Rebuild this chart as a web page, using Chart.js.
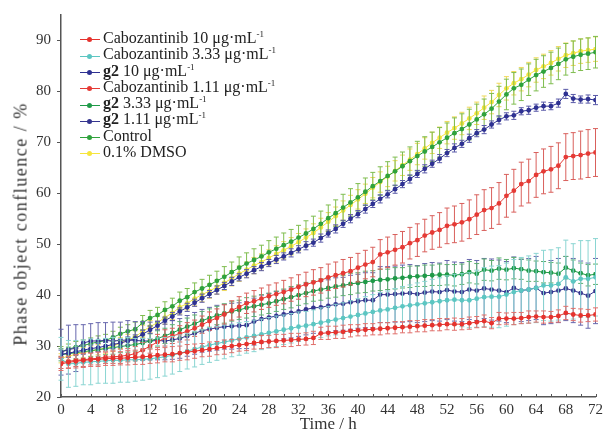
<!DOCTYPE html>
<html>
<head>
<meta charset="utf-8">
<script src="https://cdn.jsdelivr.net/npm/chart.js@4.4.0/dist/chart.umd.min.js"></script>
<style>
html, body { margin: 0; padding: 0; background: #fff; }
#caixa { position: relative; width: 607px; height: 435px; }
#legenda { position: absolute; left: 80px; top: 30px; font-family: 'Liberation Serif', 'Times New Roman', serif; font-size: 16px; color: #222; }
#legenda div { height: 16.3px; line-height: 16.3px; white-space: nowrap; }
.amostra { display: inline-block; position: relative; width: 20px; height: 10px; margin-right: 3px; vertical-align: middle; }
.amostra i { position: absolute; left: 0; right: 0; top: 5px; height: 1px; }
.amostra b { position: absolute; left: 7px; top: 3px; width: 5px; height: 5px; border-radius: 50%; }
sup { font-size: 9px; vertical-align: top; line-height: 1; }
#titulo_y { position: absolute; left: 21px; top: 224px; transform: translate(-50%, -50%) rotate(-90deg); white-space: nowrap;
            font-family: 'Liberation Serif', 'Times New Roman', serif; font-size: 18px; letter-spacing: 1.5px; color: #333; }
</style>
</head>
<body>
<div id="caixa">
  <canvas id="plot1" width="607" height="435"></canvas>
  <div id="legenda"></div>
  <div id="titulo_y"></div>
</div>
<script>
// tempo em horas
var horas = [0,1,2,3,4,5,6,7,8,9,10,11,12,13,14,15,16,17,18,19,20,21,22,23,24,25,26,27,28,29,30,31,32,33,34,35,36,
             37,38,39,40,41,42,43,44,45,46,47,48,49,50,51,52,53,54,55,56,57,58,59,60,61,62,63,64,65,66,67,68,69,70,71,72];

var nomes = ['Cabozantinib 10 μg·mL-1', 'Cabozantinib 3.33 μg·mL-1', 'g2 10 μg·mL-1', 'Cabozantinib 1.11 μg·mL-1',
             'g2 3.33 μg·mL-1', 'g2 1.11 μg·mL-1', 'Control', '0.1% DMSO'];
var titulo_x = 'Time / h';
var titulo_y = 'Phase object confluence / %';

var cab_10 = [26.5,26.8,27.0,27.2,27.3,27.4,27.5,27.6,27.6,27.7,
              27.8,27.9,28.0,28.2,28.3,28.4,28.6,28.8,29.0,29.2,
              29.4,29.6,29.8,30.0,30.2,30.4,30.6,30.8,30.9,31.0,
              31.1,31.2,31.3,31.4,31.6,32.5,32.6,32.7,32.8,33.0,
              33.1,33.2,33.3,33.4,33.5,33.6,33.7,33.8,33.9,34.0,
              34.1,34.2,34.3,34.3,34.3,34.5,34.7,34.9,34.5,35.4,
              35.4,35.4,35.5,35.7,35.8,35.7,35.7,35.9,36.5,36.2,
              36.0,36.0,36.2];
var cab_333 = [27.5,26.5,26.6,26.8,26.9,27.0,27.1,27.2,27.2,27.3,
               27.3,27.4,27.5,27.7,27.9,28.2,28.6,29.0,29.4,29.8,
               30.2,30.5,30.8,31.1,31.4,31.7,32.0,32.3,32.6,32.9,
               33.2,33.5,33.8,34.0,34.3,34.6,34.9,35.2,35.5,35.8,
               36.1,36.4,36.7,37.0,37.2,37.5,37.8,38.0,38.2,38.4,
               38.6,38.8,39.0,39.1,39.0,39.0,39.3,39.6,39.7,39.7,
               40.1,40.6,40.9,41.1,41.4,41.9,41.9,42.2,43.5,42.7,
               43.2,43.2,43.5];
var g2_10 = [28.4,28.6,28.9,29.2,29.5,29.7,30.0,30.3,30.6,31.0,
             31.5,32.3,33.2,34.0,35.0,35.8,36.8,37.6,38.5,39.4,
             40.2,41.0,41.8,42.7,43.5,44.2,44.9,45.6,46.3,47.0,
             47.6,48.3,49.0,49.7,50.3,51.2,52.1,53.0,54.0,55.0,
             55.9,56.9,57.9,58.9,59.8,60.8,61.8,62.8,63.8,64.8,
             65.8,66.8,67.9,68.9,69.7,70.8,71.8,72.5,73.5,74.4,
             75.1,75.3,76.1,76.3,76.8,77.1,77.1,77.7,79.5,78.6,
             78.4,78.5,78.3];
var cab_111 = [26.8,27.0,27.2,27.3,27.5,27.6,27.8,27.9,28.0,28.2,
               28.5,29.2,30.0,30.8,31.6,32.0,32.4,32.9,33.5,34.2,
               34.9,35.5,36.2,37.0,37.7,38.4,38.8,39.3,39.8,40.2,
               40.6,41.1,41.6,42.1,42.5,42.9,43.5,43.9,44.3,44.7,
               45.4,46.0,46.5,48.0,48.4,48.9,49.4,50.2,50.8,51.7,
               52.3,52.8,53.6,53.9,54.3,54.9,55.8,56.7,57.1,58.0,
               59.5,60.5,61.8,62.4,63.6,64.3,64.7,65.4,67.1,67.3,
               67.5,67.8,68.0];
var g2_333 = [28.3,28.5,28.7,28.9,29.1,29.3,29.5,29.7,29.9,30.1,
              30.3,30.6,31.0,31.5,32.0,32.6,33.2,33.8,34.4,35.0,
              35.5,36.0,36.4,36.8,37.1,37.5,37.8,38.1,38.4,38.8,
              39.2,39.6,40.0,40.4,40.8,41.1,41.4,41.7,41.9,42.2,
              42.4,42.6,42.8,43.0,43.1,43.3,43.4,43.6,43.7,43.8,
              43.9,44.0,44.0,43.9,44.1,44.5,44.2,45.0,44.8,45.2,
              45.0,45.3,45.1,44.8,44.7,44.5,44.4,44.2,45.4,44.8,
              44.3,43.9,44.1];
var g2_111 = [28.8,29.3,29.6,30.6,31.0,31.0,31.1,31.0,31.1,31.2,
              31.1,31.0,31.0,31.1,31.0,31.2,31.5,32.0,32.5,33.0,
              33.3,33.6,33.8,33.9,34.0,34.1,34.8,35.3,35.6,35.9,
              36.2,36.5,36.8,37.2,37.5,37.6,37.9,38.2,38.3,38.6,
              38.8,39.0,39.0,40.1,40.1,40.2,40.3,40.4,40.2,40.5,
              40.7,40.6,41.0,40.7,40.6,41.1,40.9,41.3,41.1,40.9,
              40.6,41.4,40.9,41.1,41.4,40.4,40.6,40.9,41.3,40.9,
              40.4,39.9,40.8];
var controle = [28.9,29.4,29.8,30.1,30.5,30.8,31.1,31.7,32.4,32.9,
                33.3,34.6,35.5,36.1,37.1,37.8,38.9,39.6,40.6,41.3,
                42.0,42.8,43.6,44.5,45.4,46.2,46.9,47.6,48.4,49.1,
                49.8,50.5,51.3,52.1,53.0,54.0,55.1,56.1,57.2,58.2,
                59.2,60.3,61.4,62.4,63.4,64.3,65.3,66.3,67.3,68.2,
                69.1,70.0,70.9,71.8,72.6,73.5,74.5,75.5,76.6,78.0,
                79.4,80.6,81.3,82.3,83.2,83.9,84.6,85.4,86.3,86.8,
                87.2,87.4,87.7];
var dmso = [27.6,28.0,28.4,28.7,29.0,29.3,29.6,30.0,30.6,31.2,
            31.8,32.9,33.8,34.6,35.6,36.5,37.6,38.4,39.3,40.1,
            40.8,41.6,42.4,43.3,44.2,45.0,45.8,46.5,47.3,48.1,
            48.8,49.6,50.4,51.3,52.2,53.3,54.4,55.5,56.6,57.7,
            58.8,59.9,61.1,62.2,63.3,64.4,65.5,66.6,67.7,68.8,
            69.9,70.9,71.9,72.8,73.7,74.7,75.7,76.8,77.9,79.3,
            80.6,81.6,82.4,83.3,84.2,84.9,85.6,86.4,87.1,87.5,
            87.9,88.1,88.3];

// desvios (barras de erro, +/-)
var erro_cab_10 = [1.3,1.2,1.3,1.4,1.3,1.4,1.3,1.4,1.3,1.4,
                   1.4,1.5,1.4,1.5,1.4,1.5,1.4,1.5,1.4,1.3,
                   1.4,1.3,1.4,1.3,1.2,1.3,1.2,1.3,1.2,1.3,
                   1.2,1.3,1.2,1.2,1.3,1.2,1.3,1.2,1.3,1.2,
                   1.1,1.2,1.1,1.2,1.1,1.2,1.1,1.2,1.1,1.2,
                   1.1,1.2,1.1,1.2,1.1,1.2,1.1,1.2,1.1,1.2,
                   1.1,1.2,1.1,1.2,1.1,1.2,1.1,1.2,1.3,1.2,
                   1.3,1.2,1.3];
var erro_cab_333 = [4.2,4.6,4.5,4.4,4.5,4.3,4.4,4.5,4.3,4.4,
                    4.2,4.1,4.0,3.9,3.8,3.7,3.6,3.5,3.5,3.4,
                    3.4,3.3,3.3,3.2,3.2,3.1,3.1,3.0,3.0,3.0,
                    2.9,2.9,2.9,2.8,2.8,2.9,2.9,3.0,3.0,3.1,
                    3.2,3.3,3.4,3.5,3.6,3.8,3.9,4.0,4.2,4.3,
                    4.5,4.6,4.8,5.0,5.2,5.4,5.6,5.8,6.0,6.1,
                    6.2,6.4,6.5,6.6,6.8,6.9,7.0,7.1,7.3,7.4,
                    7.5,7.5,7.6];
var erro_g2_10 = [0.8,0.8,0.7,0.8,0.7,0.8,0.7,0.8,0.7,0.8,
                  0.7,0.8,0.7,0.8,0.7,0.8,0.7,0.8,0.7,0.8,
                  0.7,0.8,0.7,0.8,0.7,0.8,0.7,0.8,0.7,0.8,
                  0.7,0.8,0.7,0.8,0.7,0.8,0.7,0.8,0.7,0.8,
                  0.7,0.8,0.7,0.8,0.7,0.8,0.7,0.8,0.7,0.8,
                  0.7,0.8,0.7,0.8,0.7,0.8,0.7,0.8,0.7,0.8,
                  0.7,0.8,0.7,0.8,0.7,0.8,0.7,0.8,0.9,0.8,
                  0.7,0.8,0.9];
var erro_cab_111 = [1.2,1.3,1.2,1.3,1.2,1.3,1.2,1.3,1.4,1.3,
                    1.4,1.5,1.4,1.5,1.6,1.5,1.6,1.7,1.6,1.7,
                    1.8,1.8,1.9,1.9,2.0,2.0,2.1,2.1,2.2,2.2,
                    2.3,2.3,2.4,2.4,2.5,2.5,2.6,2.6,2.7,2.7,
                    2.8,2.8,2.9,2.9,3.0,3.0,3.1,3.1,3.2,3.2,
                    3.3,3.4,3.5,3.6,3.7,3.8,3.9,4.0,4.0,4.1,
                    4.2,4.2,4.3,4.3,4.4,4.4,4.5,4.5,4.6,4.6,
                    4.7,4.7,4.7];
var erro_g2_333 = [1.2,1.3,1.2,1.3,1.2,1.3,1.2,1.3,1.2,1.3,
                   1.3,1.4,1.4,1.5,1.5,1.6,1.6,1.7,1.7,1.8,
                   1.8,1.8,1.9,1.9,1.9,2.0,2.0,2.0,2.0,2.0,
                   2.0,2.1,2.0,2.1,2.0,2.1,2.0,2.1,2.0,2.1,
                   2.0,2.1,2.0,2.1,2.0,2.1,2.0,2.1,2.0,2.1,
                   2.0,2.1,2.0,2.1,2.0,2.1,2.0,2.1,2.0,2.1,
                   2.0,2.1,2.0,2.1,2.0,2.1,2.0,2.1,2.2,2.1,
                   2.0,2.1,2.0];
var erro_g2_111 = [4.5,4.8,4.6,3.6,3.4,3.6,3.5,3.7,3.6,3.8,
                   3.7,3.8,3.7,3.8,3.7,3.8,3.9,4.0,4.1,4.2,
                   4.3,4.4,4.4,4.5,4.5,4.6,4.6,4.7,4.7,4.8,
                   4.8,4.9,4.9,5.0,5.0,5.1,5.1,5.2,5.2,5.3,
                   5.3,5.4,5.4,5.5,5.5,5.5,5.6,5.6,5.6,5.7,
                   5.7,5.7,5.8,5.8,5.8,5.9,5.9,5.9,6.0,6.0,
                   6.0,6.1,6.1,6.1,6.2,6.2,6.2,6.3,6.3,6.3,
                   6.3,6.4,6.4];
var erro_controle = [1.0,1.0,1.1,1.1,1.1,1.2,1.2,1.2,1.3,1.3,
                     1.4,1.4,1.5,1.5,1.6,1.6,1.7,1.7,1.8,1.8,
                     1.9,1.9,2.0,2.0,2.1,2.1,2.2,2.2,2.3,2.3,
                     2.4,2.4,2.4,2.5,2.5,2.5,2.6,2.6,2.6,2.7,
                     2.7,2.7,2.7,2.8,2.8,2.8,2.8,2.8,2.9,2.9,
                     2.9,2.9,2.9,3.0,3.0,3.0,3.0,3.0,3.0,3.0,
                     3.0,3.1,3.1,3.1,3.1,3.1,3.1,3.1,3.1,3.1,
                     3.1,3.1,3.1];
var erro_dmso = [0.9,0.9,1.0,1.0,1.0,1.0,1.1,1.1,1.1,1.1,
                 1.2,1.2,1.2,1.2,1.3,1.3,1.3,1.3,1.4,1.4,
                 1.4,1.4,1.5,1.5,1.5,1.5,1.6,1.6,1.6,1.6,
                 1.7,1.7,1.7,1.7,1.8,1.8,1.8,1.8,1.9,1.9,
                 1.9,1.9,2.0,2.0,2.0,2.0,2.0,2.1,2.1,2.1,
                 2.1,2.1,2.2,2.2,2.2,2.2,2.2,2.3,2.3,2.3,
                 2.3,2.3,2.3,2.4,2.4,2.4,2.4,2.4,2.4,2.4,
                 2.4,2.4,2.4];

var series = [cab_10, cab_333, g2_10, cab_111, g2_333, g2_111, controle, dmso];
var erros = [erro_cab_10, erro_cab_333, erro_g2_10, erro_cab_111, erro_g2_333, erro_g2_111, erro_controle, erro_dmso];
var cores = ['#e5322d', '#5cc6c2', '#2e3192', '#e53a35', '#1f9a48', '#35358f', '#2fa23c', '#f6e53c'];
var cores_erro = ['#e0706c', '#8ad5d2', '#5a5aa8', '#d9605c', '#5fb070', '#6767ad', '#7fbd4f', '#efd95a'];

var fonte = "'Liberation Serif', 'Times New Roman', serif";

// desenha as barras de erro antes de cada serie
var barras_de_erro = {
    id: 'barras_de_erro',
    beforeDatasetDraw: function (chart, args) {
        var ds = chart.data.datasets[args.index];
        var eixo_y = chart.scales.y;
        var ctx = chart.ctx;
        ctx.save();
        ctx.strokeStyle = ds.cor_erro;
        ctx.lineWidth = 1;
        for (var i = 0; i < args.meta.data.length; i++) {
            var p = args.meta.data[i];
            var v = ds.data[i].y;
            var e = ds.erros[i];
            var y1 = eixo_y.getPixelForValue(v + e);
            var y2 = eixo_y.getPixelForValue(v - e);
            ctx.beginPath();
            ctx.moveTo(p.x, y1); ctx.lineTo(p.x, y2);
            ctx.moveTo(p.x - 2.5, y1); ctx.lineTo(p.x + 2.5, y1);
            ctx.moveTo(p.x - 2.5, y2); ctx.lineTo(p.x + 2.5, y2);
            ctx.stroke();
        }
        ctx.restore();
    }
};

// tracinhos do eixo x para dentro do grafico
var marcas_x = {
    id: 'marcas_x',
    afterDraw: function (chart) {
        var eixo_x = chart.scales.x;
        var ctx = chart.ctx;
        var base = chart.chartArea.bottom;
        ctx.save();
        ctx.strokeStyle = '#555';
        ctx.lineWidth = 1;
        eixo_x.ticks.forEach(function (t) {
            var px = Math.round(eixo_x.getPixelForValue(t.value)) + 0.5;
            ctx.beginPath();
            ctx.moveTo(px, base);
            ctx.lineTo(px, base - 3);
            ctx.stroke();
        });
        ctx.restore();
    }
};

var conjuntos = [];
for (var s = 0; s < series.length; s++) {
    var pontos = [];
    for (var k = 0; k < horas.length; k++) {
        pontos.push({ x: horas[k], y: series[s][k] });
    }
    conjuntos.push({
        label: nomes[s],
        data: pontos,
        erros: erros[s],
        cor_erro: cores_erro[s],
        borderColor: cores[s],
        backgroundColor: cores[s],
        borderWidth: 1,
        pointRadius: 2.4,
        pointBorderWidth: 0,
        pointBackgroundColor: cores[s],
        tension: 0
    });
}

var dados_grafico = {
    type: 'line',
    data: { datasets: conjuntos },
    options: {
        responsive: false,
        animation: false,
        layout: { padding: { top: 15, right: 10, left: 0, bottom: 0 } },
        plugins: { legend: { display: false }, tooltip: { enabled: false } },
        scales: {
            x: {
                type: 'linear',
                min: 0,
                max: 72,
                afterFit: function (eixo) { eixo.height = 38; },
                ticks: {
                    stepSize: 2,
                    autoSkip: false,
                    maxRotation: 0,
                    padding: 4,
                    color: '#333',
                    font: { family: fonte, size: 15 },
                    callback: function (v) { return v % 4 === 0 ? v : ''; }
                },
                grid: { drawOnChartArea: false, drawTicks: false, tickLength: 0, color: '#555' },
                border: { color: '#555', width: 1.5 },
                title: { display: true, text: titulo_x, color: '#333', font: { family: fonte, size: 17 }, padding: 0 }
            },
            y: {
                min: 20,
                max: 95,
                afterFit: function (eixo) { eixo.width = 61; },
                ticks: {
                    stepSize: 10,
                    includeBounds: false,
                    padding: 6,
                    color: '#333',
                    font: { family: fonte, size: 15 }
                },
                grid: { drawOnChartArea: false, tickLength: 4, color: '#555' },
                border: { color: '#555', width: 1.5 },
                title: { display: false }
            }
        }
    },
    plugins: [barras_de_erro, marcas_x]
};

var grafico = new Chart(document.getElementById('plot1'), dados_grafico);

// titulo do eixo y (texto em html, um pouco abaixo do centro como no original)
document.getElementById('titulo_y').textContent = titulo_y;

// legenda em html dentro da area do grafico
var html = '';
for (var n = 0; n < nomes.length; n++) {
    var texto = nomes[n].replace(/^g2 /, '<b style="font-weight:bold">g2</b> ').replace(/-1$/, '<sup>-1</sup>');
    html += '<div><span class="amostra"><i style="background:' + cores[n] + '"></i><b style="background:' + cores[n] + '"></b></span>' + texto + '</div>';
}
document.getElementById('legenda').innerHTML = html;
</script>
</body>
</html>
